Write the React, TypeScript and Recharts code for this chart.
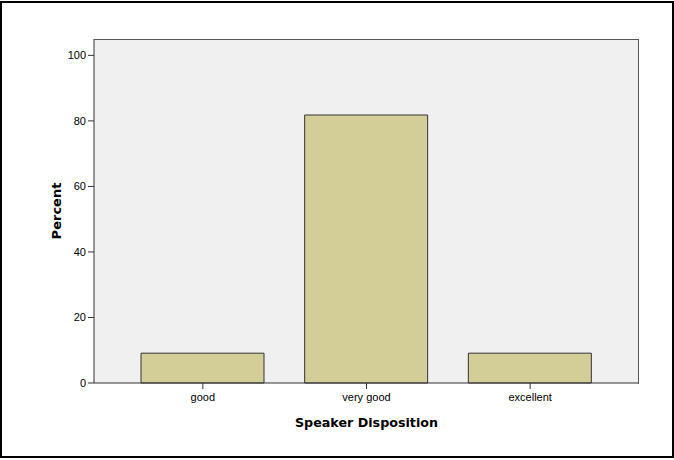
import React from "react";
import {
  BarChart,
  Bar,
  XAxis,
  YAxis,
  CartesianGrid,
} from "recharts";

const categories = ["good", "very good", "excellent"];
const percents = [9.1, 81.8, 9.1];
const yTicks = [0, 20, 40, 60, 80, 100];

const data = categories.map((c, i) => ({ name: c, value: percents[i] }));

const TICK_FONT = "'Liberation Sans', Arial, sans-serif";
const TITLE_FONT = "'DejaVu Sans', Verdana, sans-serif";

const XTitle = ({ viewBox }: any) => {
  const cx = viewBox.x + viewBox.width / 2;
  return (
    <text
      x={cx}
      y={427}
      textAnchor="middle"
      fontFamily={TITLE_FONT}
      fontWeight="bold"
      fontSize={12.7}
      fill="#000"
    >
      Speaker Disposition
    </text>
  );
};

const YTitle = ({ viewBox }: any) => {
  const cy = viewBox.y + viewBox.height / 2;
  const x = 61;
  return (
    <text
      x={x}
      y={cy}
      textAnchor="middle"
      transform={`rotate(-90, ${x}, ${cy})`}
      fontFamily={TITLE_FONT}
      fontWeight="bold"
      fontSize={13}
      fill="#000"
    >
      Percent
    </text>
  );
};

const App: React.FC = () => {
  return (
    <div style={{ position: "absolute", left: 0, top: 0, width: 674, height: 460, background: "#fff" }}>
      <div
        style={{
          position: "absolute",
          left: 0,
          top: 1,
          width: 674,
          height: 457,
          boxSizing: "border-box",
          border: "2px solid #000",
        }}
      />
      <div style={{ position: "absolute", left: 0, top: 0 }}>
        <BarChart
          width={674}
          height={460}
          data={data}
          margin={{ top: 39, right: 35, bottom: 0, left: 0 }}
          barSize={123}
        >
          <CartesianGrid horizontal={false} vertical={false} fill="#f0f0f0" />
          <XAxis
            dataKey="name"
            height={77}
            padding={{ left: 27, right: 27 }}
            axisLine={{ stroke: "#333" }}
            tickLine={{ stroke: "#333" }}
            tickSize={6}
            tickMargin={4}
            tick={{ fontSize: 11, fill: "#000", fontFamily: TICK_FONT }}
            label={<XTitle />}
          />
          <YAxis
            width={94}
            domain={[0, 105]}
            ticks={yTicks}
            interval={0}
            axisLine={{ stroke: "#333" }}
            tickLine={{ stroke: "#333" }}
            tickSize={6}
            tickMargin={2}
            tick={{ fontSize: 11, fill: "#000", fontFamily: TICK_FONT }}
            label={<YTitle />}
          />
          <Bar
            dataKey="value"
            fill="#d3ce98"
            stroke="#333"
            strokeWidth={1}
            isAnimationActive={false}
          />
        </BarChart>
      </div>
      <div
        style={{
          position: "absolute",
          left: 94,
          top: 39,
          width: 545,
          height: 345,
          boxSizing: "border-box",
          borderTop: "1px solid #555",
          borderRight: "1px solid #555",
          pointerEvents: "none",
        }}
      />
    </div>
  );
};

export default App;
